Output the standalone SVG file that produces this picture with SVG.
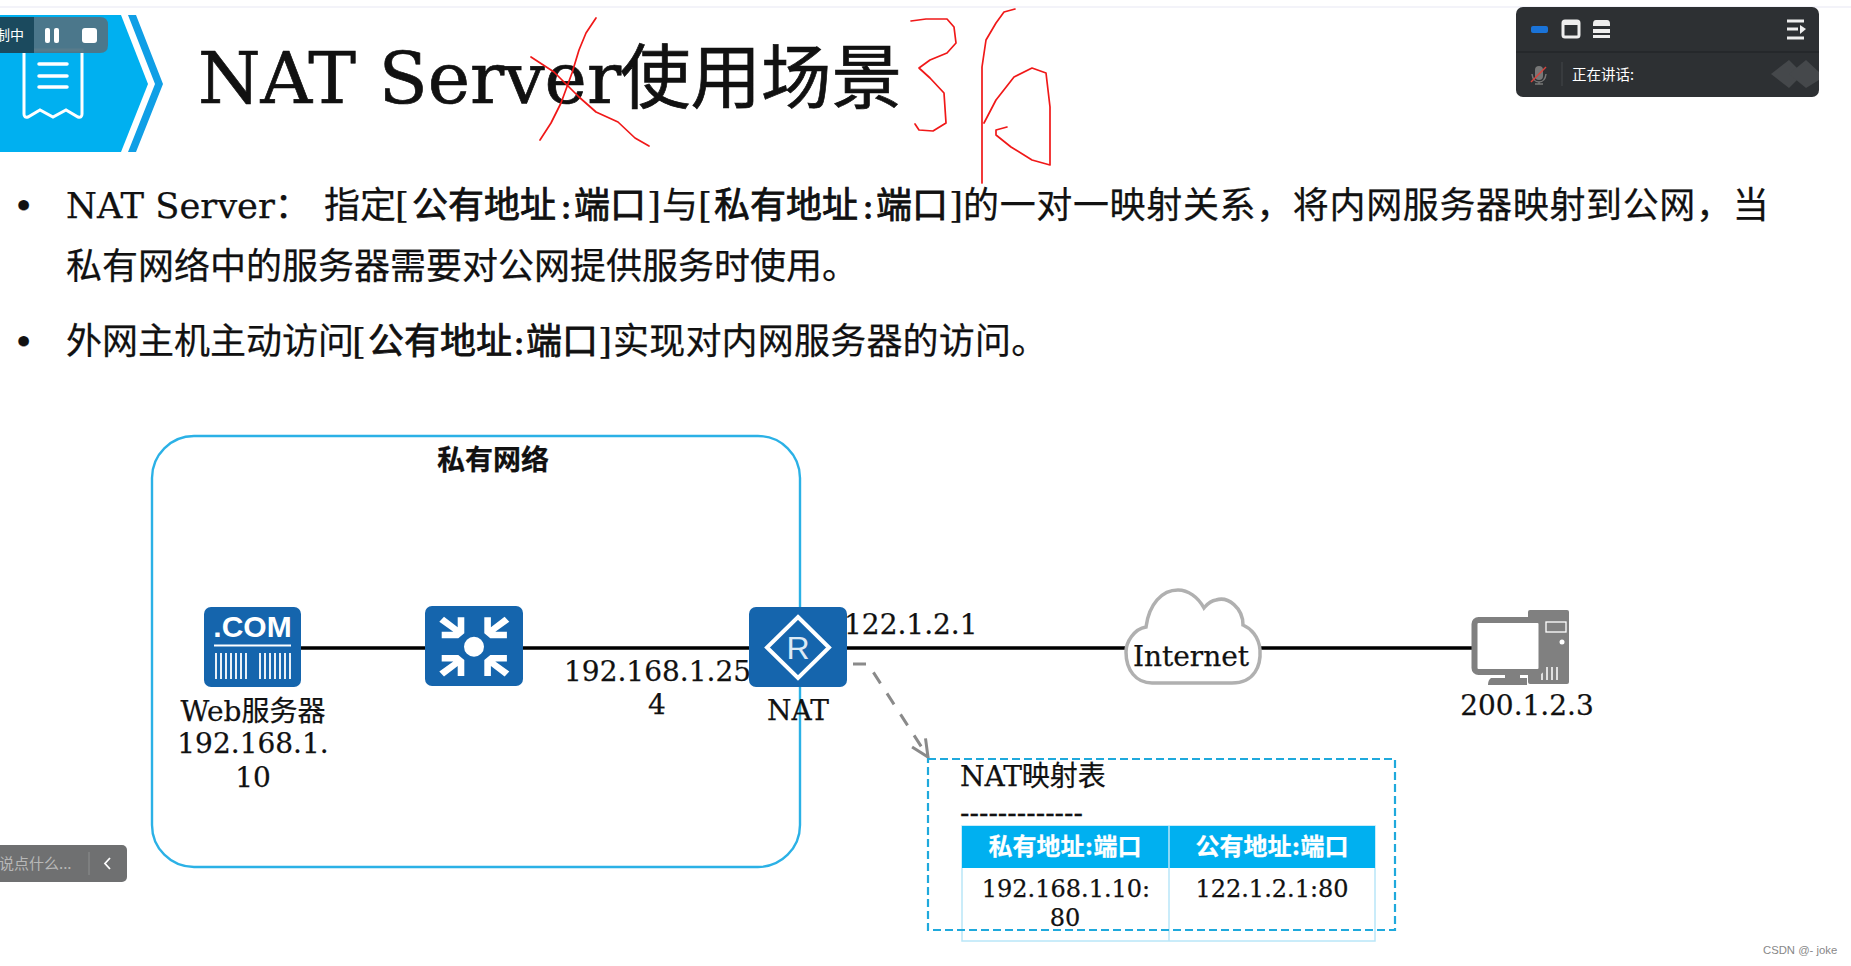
<svg xmlns="http://www.w3.org/2000/svg" xmlns:xlink="http://www.w3.org/1999/xlink" width="1851" height="966" viewBox="0 0 1851 966">
<defs>
<style>
.s{font-family:"DejaVu Serif","Noto Sans CJK SC",serif;fill:#111;stroke:#111;stroke-width:.25}
.l{font-size:28px}
.m{font-size:24px}
.h{font-size:28px}
.b{font-size:36px}
.e{stroke-width:.8}
.bb{font-weight:bold}
.c{text-anchor:middle}
.wt{fill:#fff;stroke:#fff}
.ui{font-family:"Noto Sans CJK SC","Liberation Sans",sans-serif}
.link{stroke:#000;stroke-width:3.6;fill:none}
.ink{fill:none;stroke:#f01818;stroke-width:1.7;stroke-linecap:round;stroke-linejoin:round}
.node{fill:#1565ad}
.w{fill:none;stroke:#fff}
</style>
<marker id="open" markerWidth="24" markerHeight="24" refX="20" refY="10" orient="auto" markerUnits="userSpaceOnUse">
<path d="M3 2 L20 10 L3 18" fill="none" stroke="#8a8a8a" stroke-width="3"/>
</marker>
<path id="arrow" d="M464.300 617.300V633.300L458.300 638.300H441.700V631.700H453.300L439.300 621.700L444 616.700L457.700 627.300V617.300Z" fill="#fff"/>
</defs>
<rect width="1851" height="966" fill="#fff"/>
<rect x="0" y="6" width="1851" height="2" fill="#f3f3f9"/>

<g id="title-banner">
<path d="M0 15H121L148 84L121 152H0Z" fill="#00b0f0"/>
<path d="M128 15H136L163 84L136 152H128L155 84Z" fill="#109fe6"/>
<path d="M24 50H82V114Q82 118 78 117L66 110L53 117L40 110L28 117Q24 118 24 114Z" fill="none" stroke="#fff" stroke-width="3"/>
<path d="M39 64H67M39 76H67M39 87H67" fill="none" stroke="#fff" stroke-width="3.500" stroke-linecap="round"/>
<text class="s" x="198" y="103" font-size="71.500" style="stroke-width:.7">NAT Server<tspan x="620" font-size="70.500">使用场景</tspan></text>
</g>

<g id="rec-bar">
<path d="M0 17H34V53H0Z" fill="#1b4a5e"/>
<path d="M34 17H100Q108 17 108 25V45Q108 53 100 53H34Z" fill="#4f7485" fill-opacity=".95"/>
<text class="ui" x="-4" y="40" font-size="14" fill="#fff">制中</text>
<rect x="45" y="28" width="5" height="15" rx="2" fill="#fff"/>
<rect x="54" y="28" width="5" height="15" rx="2" fill="#fff"/>
<rect x="82" y="28" width="15" height="15" rx="3" fill="#fff"/>
</g>

<g id="meeting-panel">
<rect x="1516" y="7" width="303" height="90" rx="7" fill="#2d3033"/>
<path d="M1516 52H1819" stroke="#1f2124" stroke-width="1"/>
<rect x="1531" y="26" width="17" height="7" rx="2" fill="#1a73d8"/>
<rect x="1563" y="21" width="16" height="16" rx="2" fill="none" stroke="#eee" stroke-width="3"/>
<path d="M1562 22H1580V25H1562Z" fill="#eee"/>
<path d="M1596 20H1607Q1610 20 1610 24V26H1593V24Q1593 20 1596 20ZM1593 29H1610V33H1593ZM1593 35H1610V38H1593Z" fill="#eee"/>
<path d="M1787 21H1804M1787 38H1804M1787 29H1798" stroke="#eee" stroke-width="3" fill="none"/>
<path d="M1800 25L1806 29L1800 34Z" fill="#eee"/>
<rect x="1535" y="66" width="8" height="14" rx="4" fill="#777"/>
<path d="M1532 74Q1533 82 1539 82Q1545 82 1546 74M1539 82V84M1535 84H1543" fill="none" stroke="#777" stroke-width="1.500"/>
<path d="M1531 82L1546 67" stroke="#d9423c" stroke-width="1.500"/>
<path d="M1562 62V86" stroke="#44474a" stroke-width="1"/>
<text class="ui" x="1572" y="80" font-size="14.500" fill="#fff">正在讲话:</text>
<path d="M1771 74L1789 60L1803 74L1789 88Z" fill="#45484b"/>
<path d="M1789 74L1806 60L1819 72V80L1806 88Z" fill="#45484b"/>
</g>

<g id="ink-marks">
<path class="ink" d="M596 18L586 33L579 50L572 73L561 103L551 123L540 140"/>
<path class="ink" d="M531 57L554 72L579 97L596 112L618 122L635 138L649 146"/>
<path class="ink" d="M911 21L926 19L947 19L954 27L956 43L947 53L930 60L919 68L930 78L944 93L946 123L933 131L919 130L915 124"/>
<path class="ink" d="M1015 9L1004 12L996 23L986 40L982 67L982 123L982 183"/>
<path class="ink" d="M984 123L996 100L1014 77L1032 68L1046 73L1050 107L1050 165L1032 160L1011 147L996 135L996 130L1007 127"/>
</g>

<g id="body-text">
<text class="s b" x="13" y="218">•</text>
<text class="s b" y="218"><tspan x="66" font-size="35.300">NAT Server：</tspan><tspan x="324">指定</tspan><tspan x="395">[</tspan><tspan class="e" x="412">公有地址</tspan><tspan class="e" x="560">:</tspan><tspan class="e" x="574">端口</tspan><tspan x="647">]</tspan><tspan x="662">与</tspan><tspan x="698">[</tspan><tspan class="e" x="714">私有地址</tspan><tspan class="e" x="862">:</tspan><tspan class="e" x="876">端口</tspan><tspan x="949">]</tspan><tspan x="963" letter-spacing=".65">的一对一映射关系，将内网服务器映射到公网，当</tspan></text>
<text class="s b" x="66" y="279">私有网络中的服务器需要对公网提供服务时使用。</text>
<text class="s b" x="13" y="354">•</text>
<text class="s b" y="354"><tspan x="66">外网主机主动访问</tspan><tspan x="352">[</tspan><tspan class="e" x="368">公有地址</tspan><tspan class="e" x="513">:</tspan><tspan class="e" x="526">端口</tspan><tspan x="598">]</tspan><tspan x="613" letter-spacing=".2">实现对内网服务器的访问。</tspan></text>
</g>

<g id="private-network">
<rect x="152" y="436" width="648" height="431" rx="42" fill="none" stroke="#2bb1e6" stroke-width="2.400"/>
<text class="s bb c" x="493" y="470" font-size="28">私有网络</text>
</g>

<g id="connectors">
<path class="link" d="M301 648H425M523 648H749M847 648H1126M1261 648H1472"/>
<path d="M853 664H868L928 757" fill="none" stroke="#8a8a8a" stroke-width="3" stroke-dasharray="13 12" marker-end="url(#open)"/>
</g>

<g id="web-server">
<rect class="node" x="204" y="607" width="97" height="80" rx="7"/>
<text x="252.500" y="637" font-family="Liberation Sans" font-weight="bold" font-size="30" fill="#fff" text-anchor="middle">.COM</text>
<path d="M214 645.500H291" stroke="#fff" stroke-width="2"/>
<path d="M216 653V679M221 653V679M226 653V679M231 653V679M236 653V679M241 653V679M246 653V679M260 653V679M265 653V679M270 653V679M275 653V679M280 653V679M285 653V679M290 653V679" stroke="#fff" stroke-width="1.800"/>
<text class="s l c" x="253" y="721">Web服务器</text>
<text class="s l c" x="253" y="753">192.168.1.</text>
<text class="s l c" x="253" y="787">10</text>
</g>

<g id="switch">
<rect class="node" x="425" y="606" width="98" height="80" rx="7"/>
<circle cx="474" cy="646.700" r="10" fill="#fff"/>
<use xlink:href="#arrow" href="#arrow"/>
<use xlink:href="#arrow" href="#arrow" transform="translate(948.600 0) scale(-1 1)"/>
<use xlink:href="#arrow" href="#arrow" transform="translate(0 1293.300) scale(1 -1)"/>
<use xlink:href="#arrow" href="#arrow" transform="translate(948.600 1293.300) scale(-1 -1)"/>
</g>

<g id="nat-router">
<rect class="node" x="749" y="607" width="98" height="80" rx="7"/>
<path d="M798 617L829 647.500L798 678L767 647.500Z" class="w" stroke-width="4"/>
<text x="798" y="659" font-family="Liberation Sans" font-size="32" fill="#dce9f5" text-anchor="middle">R</text>
<text class="s l c" x="798" y="720">NAT</text>
<text class="s l" x="844" y="634">122.1.2.1</text>
<text class="s l" x="564" y="681">192.168.1.25</text>
<text class="s l c" x="657" y="714">4</text>
</g>

<g id="internet">
<path d="M1152 683H1232C1255 683 1261 665 1260 650C1259 636 1250 628 1243 625C1243 608 1228 596 1216 600C1209 601 1206 606 1204 608C1198 597 1188 590 1178 590C1162 590 1149 604 1146 627C1134 629 1126 642 1126 652C1126 670 1136 683 1152 683Z" fill="#fff" stroke="#b0b0b0" stroke-width="3.500"/>
<text class="s l c" x="1191" y="666">Internet</text>
</g>

<g id="host">
<rect x="1528" y="610" width="41" height="74" rx="2" fill="#808080"/>
<rect x="1546" y="622" width="20" height="10" fill="none" stroke="#fff" stroke-width="1.300"/>
<circle cx="1562" cy="642" r="2.500" fill="#fff"/>
<path d="M1542 667V680M1547 667V680M1552 667V680M1557 667V680" stroke="#fff" stroke-width="1.500"/>
<rect x="1474.500" y="620" width="67" height="52" rx="4" fill="#fff" stroke="#808080" stroke-width="6"/>
<path d="M1505 674H1520V678H1505ZM1491 678H1527V685H1488Q1488 680 1491 678Z" fill="#808080"/>
<text class="s l c" x="1527" y="715">200.1.2.3</text>
</g>

<g id="nat-table">
<rect x="962" y="826" width="413" height="115" fill="#fff" stroke="#b9e6f8" stroke-width="1.500"/>
<rect x="962" y="826" width="413" height="42" fill="#00b0f0"/>
<path d="M1169 826V941" stroke="#b9e6f8" stroke-width="1.500"/>
<text class="s bb c wt" x="1065" y="855" font-size="24">私有地址:端口</text>
<text class="s bb c wt" x="1272" y="855" font-size="24">公有地址:端口</text>
<text class="s m c" x="1066" y="897">192.168.1.10:</text>
<text class="s m c" x="1065" y="926">80</text>
<text class="s m c" x="1272" y="897">122.1.2.1:80</text>
<rect x="928" y="759" width="467" height="171" fill="none" stroke="#1fa9dc" stroke-width="2.200" stroke-dasharray="8 4"/>
<text class="s h" x="960" y="786">NAT映射表</text>
<text class="s h" x="960" y="822">-------------</text>
</g>

<g id="chat-box">
<rect x="-8" y="845" width="135" height="37" rx="5" fill="#6f7071"/>
<path d="M89 852V875" stroke="#8d8e8f" stroke-width="1"/>
<path d="M110 858L105 863.500L110 869" fill="none" stroke="#fff" stroke-width="1.800"/>
<text class="ui" x="-1" y="869" font-size="15" fill="#b8b8b8">说点什么...</text>
</g>

<text id="watermark" x="1763" y="954" font-family="Liberation Sans" font-size="11.300" fill="#888">CSDN @- joke</text>
</svg>
